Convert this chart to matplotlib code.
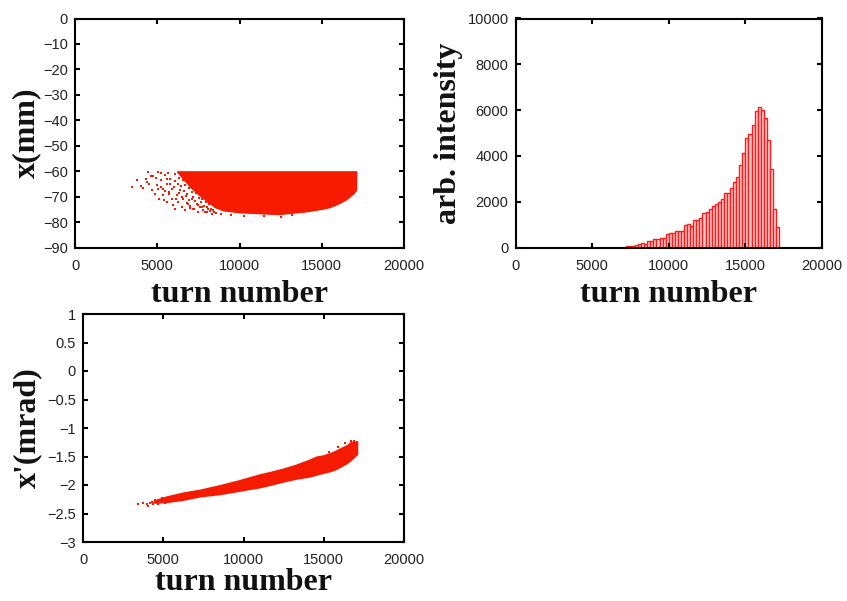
import numpy as np
import matplotlib
matplotlib.use("Agg")
import matplotlib.pyplot as plt
from matplotlib.ticker import FixedLocator, FuncFormatter

# ---------------- data ----------------
# Panel 1: x(mm) vs turn number -- dense core envelope
core_turn = [6200, 6600, 7000, 7500, 8000, 8500, 9000, 10000, 11000, 12000,
             12500, 13000, 14000, 15000, 15500, 16000, 16500, 17000, 17160]
core_top = [-60, -60, -60, -60, -60, -60, -60, -60, -60, -60,
            -60, -60, -60, -60, -60, -60, -60, -60, -60]
core_bottom = [-60.5, -63.5, -66.5, -69.5, -72.0, -74.5, -75.8, -76.6, -76.9, -77.2,
               -77.3, -76.9, -76.3, -75.3, -74.6, -73.3, -71.6, -69.0, -67.5]
# sparse particles (turn, x mm)
sparse_turn = [3445, 3749, 3790, 3993, 4154, 4316, 4458, 4519, 4660, 4762, 4863, 4964,
               5066, 5127, 5208, 5329, 5370, 5471, 5573, 5613, 5735, 5775, 5877,
               5978, 6019, 6079, 6180, 6282, 6383, 6484, 6585, 6687, 6788, 6889,
               6990, 7092, 7234, 7396, 7497, 7700, 7903, 8106, 8308, 8600, 8900,
               9500, 10300, 11500, 12500, 13200, 5200, 5650, 6100, 4900, 5500,
               5800, 5900, 6050, 6150, 6250, 6300, 6350, 6450, 6500, 6550, 6620,
               6700, 6750, 6820, 6900, 6950, 7020, 7100, 7150, 7200, 7300, 7350,
               7450, 7550, 7600, 7650, 7750, 7800, 7850, 7950, 8000, 8050, 8150,
               8200, 8250, 8400, 8450, 5400, 5600, 5700, 4600, 4400, 5050, 5250]
sparse_x = [-66.2, -63.6, -63.6, -65.8, -66.6, -63.2, -60.3, -64.9, -67.5, -61.8, -68.8, -65.5,
            -60.5, -70.8, -63.6, -66.9, -69.5, -61.6, -72.1, -64.9, -68.2, -62.9, -70.8,
            -73.2, -66.2, -74.7, -69.5, -72.1, -67.5, -74.1, -70.8, -75.4, -68.8, -72.8,
            -74.4, -70.8, -74.7, -72.8, -76.0, -74.1, -76.0, -74.7, -76.7, -76.4, -76.9,
            -77.3, -77.6, -77.8, -78.0, -77.4, -60.8, -60.6, -61.2, -62.5, -67.8,
            -65.0, -67.2, -63.8, -71.0, -65.2, -68.4, -62.8, -66.0, -70.2, -63.5, -67.8,
            -65.4, -69.6, -72.5, -66.8, -71.4, -73.8, -68.2, -75.0, -70.0, -71.8, -68.6,
            -73.2, -70.6, -74.0, -72.2, -70.9, -75.4, -73.6, -72.0, -76.2, -74.2, -73.0,
            -75.6, -74.8, -75.2, -76.1, -71.4, -63.0, -69.0, -62.0, -64.2, -67.0, -66.4]

# Panel 2: histogram of loss turn
hist_start = 7200
hist_width = 200
hist_counts = [60, 60, 80, 110, 150, 190, 170, 270, 300, 360,
               380, 420, 400, 610, 620, 630, 710, 720, 720, 1000,
               1030, 960, 1200, 1220, 1270, 1500, 1530, 1680, 1800, 1900,
               2000, 2100, 2370, 2380, 2620, 2840, 3090, 3600, 4120, 4760,
               4960, 5330, 5980, 6150, 6000, 5650, 4700, 3440, 1690, 890]

# Panel 3: x'(mrad) vs turn number -- band envelope
band_turn = [4400, 5200, 6250, 7300, 8550, 9800, 10400, 11050, 11650, 12500, 13300,
             14150, 14550, 14950, 15400, 15800, 16000, 16450, 16650, 16850, 17150]
band_upper = [-2.27, -2.20, -2.13, -2.08, -2.00, -1.91, -1.86, -1.81, -1.77, -1.71, -1.64,
              -1.55, -1.50, -1.48, -1.44, -1.39, -1.36, -1.30, -1.25, -1.24, -1.24]
band_lower = [-2.33, -2.32, -2.28, -2.22, -2.18, -2.12, -2.09, -2.06, -2.02, -1.96, -1.91,
              -1.87, -1.84, -1.81, -1.78, -1.74, -1.71, -1.64, -1.60, -1.55, -1.47]
tail_turn = [3447, 3759, 3967, 4070, 4175, 4278, 4382, 4486, 4694, 4902, 5109,
             15300, 15900, 16300, 16700, 16900, 17050]
tail_xp = [-2.339, -2.322, -2.339, -2.368, -2.310, -2.292, -2.339, -2.263, -2.339, -2.234, -2.310,
           -1.42, -1.34, -1.27, -1.22, -1.22, -1.25]

# axis ticks
turn_ticks = [0, 5000, 10000, 15000, 20000]
x_ticks = [0, -10, -20, -30, -40, -50, -60, -70, -80, -90]
hist_ticks = [0, 2000, 4000, 6000, 8000, 10000]
xp_ticks = [1, 0.5, 0, -0.5, -1, -1.5, -2, -2.5, -3]

# ---------------- style ----------------
RED = "#f51a00"
TICK_FONT = "Liberation Sans"
LABEL_FONT = "Liberation Serif"

plt.rcParams["font.family"] = [TICK_FONT, "DejaVu Sans"]

fig = plt.figure(figsize=(8.47, 6.01), dpi=100)
W, H = 847.0, 601.0


def add_ax(l, t, r, b):
    return fig.add_axes([l / W, 1 - b / H, (r - l) / W, (b - t) / H])


def fmt(v, pos):
    s = "%g" % v
    return s.replace("-", "\u2212")


def style(ax, yticks, ylabel, ylabel_x, xlabel_y):
    ax.set_xlim(0, 20000)
    ax.xaxis.set_major_locator(FixedLocator(turn_ticks))
    ax.yaxis.set_major_locator(FixedLocator(yticks))
    ax.xaxis.set_major_formatter(FuncFormatter(fmt))
    ax.yaxis.set_major_formatter(FuncFormatter(fmt))
    for sp in ax.spines.values():
        sp.set_linewidth(1.5)
        sp.set_color("black")
    ax.tick_params(direction="in", length=3.5, width=1.5, top=True, right=True,
                   labelsize=10.5, labelcolor="#222222", color="black")
    ax.tick_params(axis="x", pad=8)
    ax.tick_params(axis="y", pad=5)
    ax.set_xlabel("turn number", family=LABEL_FONT, fontweight="bold", fontsize=23,
                  color="#111111")
    ax.xaxis.set_label_coords(0.5, xlabel_y)
    ax.set_ylabel(ylabel, family=LABEL_FONT, fontweight="bold", fontsize=23,
                  color="#111111", va="center")
    ax.yaxis.set_label_coords(ylabel_x, 0.5)


# Panel 1
ax1 = add_ax(75, 18.5, 404, 247.5)
ax1.fill_between(core_turn, core_bottom, core_top, color=RED, lw=0, edgecolor="none")
ax1.scatter(sparse_turn, sparse_x, s=3.0, marker="s", color=RED, linewidths=0)
ax1.set_ylim(-90, 0)
style(ax1, x_ticks, "x(mm)", -0.146, -0.14)

# Panel 2
ax2 = add_ax(515.5, 18.5, 822, 247.5)
edges = hist_start + hist_width * np.arange(len(hist_counts))
ax2.bar(edges, hist_counts, width=hist_width, align="edge",
        facecolor="#ffd6d6", edgecolor="#ff1a1a", linewidth=1.0)
ax2.set_ylim(0, 10000)
style(ax2, hist_ticks, "arb. intensity", -0.219, -0.14)

# Panel 3
ax3 = add_ax(83, 314, 404, 542)
ax3.fill_between(band_turn, band_lower, band_upper, color=RED, lw=0, edgecolor="none")
ax3.scatter(tail_turn, tail_xp, s=3.0, marker="s", color=RED, linewidths=0)
ax3.set_ylim(-3, 1)
style(ax3, xp_ticks, "x'(mrad)", -0.174, -0.115)

fig.savefig("out.png", dpi=100)
